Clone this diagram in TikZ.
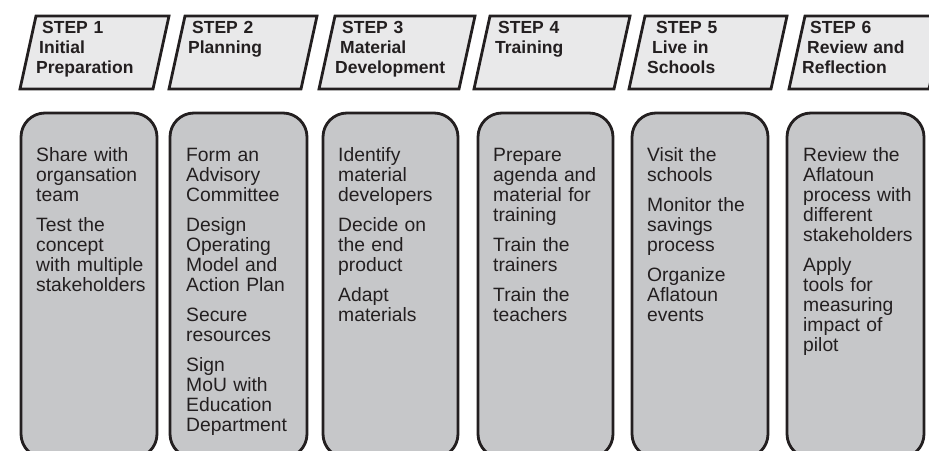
\documentclass[tikz,border=0pt]{standalone}
\usepackage{fontspec}
\setmainfont{Liberation Sans}
\definecolor{ink}{HTML}{231F20}
\definecolor{headfill}{HTML}{E9E9EA}
\definecolor{bodyfill}{HTML}{C6C7C9}
\tikzset{
  headshape/.style={draw=ink, fill=headfill, line width=2.8pt, line join=miter},
  bodybox/.style={draw=ink, fill=bodyfill, line width=2.8pt, rounded corners=24pt},
  headtext/.style={anchor=base west, inner sep=0pt, text=ink, align=left,
    text width=140pt, font=\bfseries\fontsize{17.5}{20}\selectfont},
  bodytext/.style={anchor=base west, inner sep=0pt, text=ink, align=left,
    text width=130pt, font=\fontsize{19.3}{20}\selectfont},
}
\newcommand{\gap}{\\[10pt]}
\begin{document}
\begin{tikzpicture}[x=1pt, y=-1pt]
\useasboundingbox (0,0) rectangle (929,450);
\clip (0,0) rectangle (929,450);

% step headers (slanted boxes)
\foreach \tl/\w in {36/133, 185/132, 335/140, 490/140, 645/142, 805/140} {
  \draw[headshape] (\tl,16) -- (\tl+\w,16) -- (\tl+\w-16,89) -- (\tl-16,89) -- cycle;
}

% activity columns
\foreach \l/\r in {21/157, 170/307, 323/458, 478/613, 632/768, 787/924} {
  \draw[bodybox] (\l,113) rectangle (\r,458);
}

% header texts
\node[headtext] (h1) at (36,33) {\hspace*{6pt}STEP 1\\\hspace*{3pt}Initial\\Preparation};
\node[headtext] (h2) at (185,33) {\hspace*{7pt}STEP 2\\\hspace*{3pt}Planning};
\node[headtext] (h3) at (335,33) {\hspace*{7pt}STEP 3\\\hspace*{5pt}Material\\Development};
\node[headtext] (h4) at (490,33) {\hspace*{8pt}STEP 4\\\hspace*{5pt}Training};
\node[headtext] (h5) at (645,33) {\hspace*{11pt}STEP 5\\\hspace*{7pt}Live in\\\hspace*{2pt}Schools};
\node[headtext] (h6) at (802,33) {\hspace*{8pt}STEP 6\\\hspace*{5pt}Review and\\Reflection};

% column texts
\node[bodytext] (b1) at (36,161) {Share with\\organsation\\team\gap
  Test the\\concept\\with multiple\\stakeholders};
\node[bodytext] (b2) at (186,161) {Form an\\Advisory\\Committee\gap
  Design\\Operating\\Model and\\Action Plan\gap
  Secure\\resources\gap
  Sign\\MoU with\\Education\\Department};
\node[bodytext] (b3) at (338,161) {Identify\\material\\developers\gap
  Decide on\\the end\\product\gap
  Adapt\\materials};
\node[bodytext] (b4) at (493,161) {Prepare\\agenda and\\material for\\training\gap
  Train the\\trainers\gap
  Train the\\teachers};
\node[bodytext] (b5) at (647,161) {Visit the\\schools\gap
  Monitor the\\savings\\process\gap
  Organize\\Aflatoun\\events};
\node[bodytext] (b6) at (803,161) {Review the\\Aflatoun\\process with\\different\\stakeholders\gap
  Apply\\tools for\\measuring\\impact of\\pilot};
\end{tikzpicture}
\end{document}
